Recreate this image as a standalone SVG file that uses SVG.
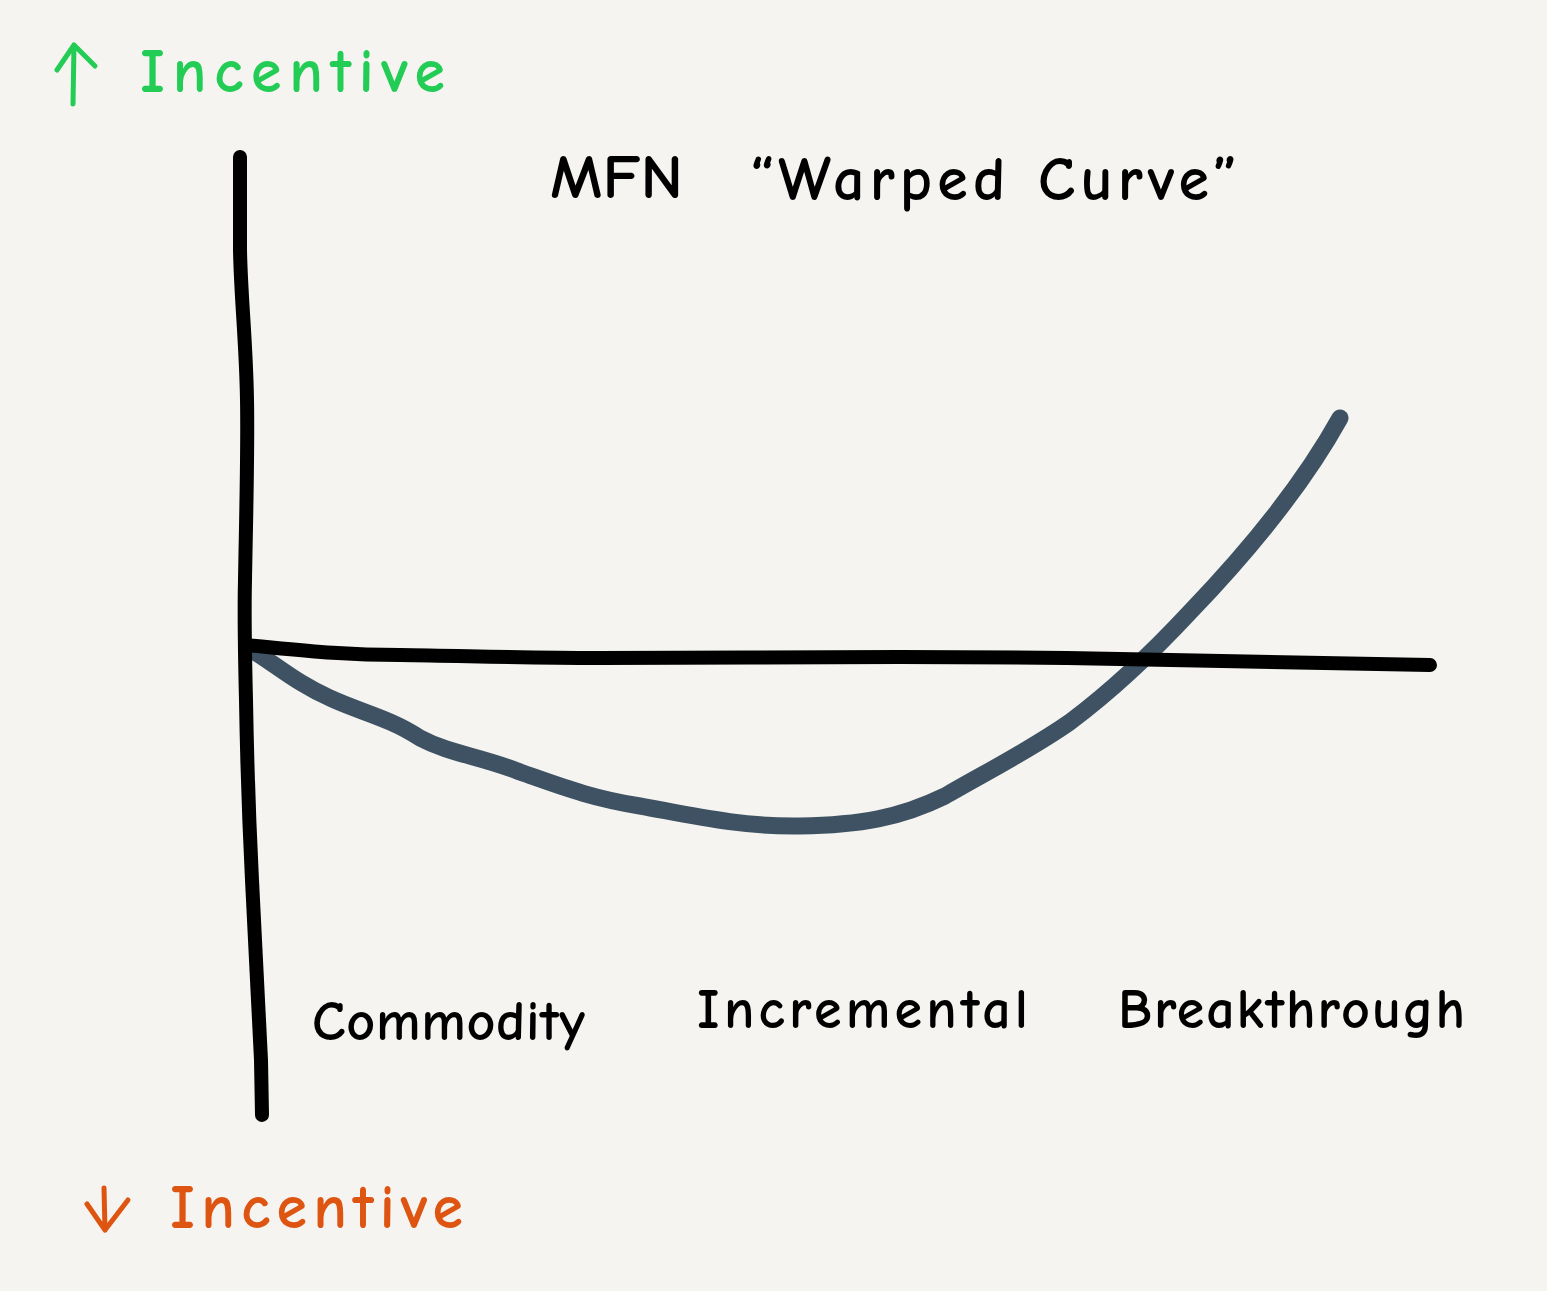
<svg xmlns="http://www.w3.org/2000/svg" width="1547" height="1291" viewBox="0 0 1547 1291">
<style>
.ink{fill:none;stroke-linecap:round;stroke-linejoin:round}
.lbl{font-family:"Comic Neue","Liberation Sans","DejaVu Sans",sans-serif;font-weight:bold}
</style>
<rect width="1547" height="1291" fill="#f5f4f0"/>
<g id="curve">
<path class="ink" stroke="#3e5263" stroke-width="17" d="M255,652 C280,668 300,685 330,698 C360,712 390,718 420,738 C450,754 480,756 520,772 C560,786 590,798 640,806 C690,815 740,827 800,826 C860,825 900,818 945,796 C990,770 1030,750 1070,722 C1110,692 1150,655 1190,612 C1240,560 1300,490 1340,418"/>
</g>
<g id="axes">
<path class="ink" stroke="#000" stroke-width="14" d="M240,157 L240,250 C241,300 246,340 247,400 C248,450 246,520 245,580 C244,620 245,660 246,700 C247,760 249,820 252,880 C255,950 259,1020 261,1060 L262,1115"/>
<path class="ink" stroke="#000" stroke-width="14" d="M246,645 C300,650 340,655 400,655 C470,656 520,658 600,658 C700,658 800,657 900,657 C1000,657 1060,658 1120,659 C1200,660 1300,662 1430,665"/>
</g>
<g id="title">
<text class="lbl" x="550" y="198" font-size="62" fill="#000" textLength="133" lengthAdjust="spacingAndGlyphs">MFN</text>
<text class="lbl" x="750" y="200" font-size="62" fill="#000" textLength="487" lengthAdjust="spacing">“Warped Curve”</text>
</g>
<g id="up-incentive">
<path class="ink" stroke="#22cc55" stroke-width="5" d="M73,104 L74,45 M57,70 L74,45 L95,66"/>
<text class="lbl" x="140" y="92" font-size="62" fill="#22cc55" textLength="305" lengthAdjust="spacing">Incentive</text>
</g>
<g id="down-incentive">
<path class="ink" stroke="#dd5511" stroke-width="5" d="M104,1188 L105,1230 M87,1204 L105,1230 L128,1200"/>
<text class="lbl" x="170" y="1228" font-size="62" fill="#dd5511" textLength="293" lengthAdjust="spacing">Incentive</text>
</g>
<g id="commodity">
<text class="lbl" x="312" y="1040" font-size="56" fill="#000" textLength="273" lengthAdjust="spacing">Commodity</text>
</g>
<g id="incremental">
<text class="lbl" x="697" y="1028" font-size="56" fill="#000" textLength="331" lengthAdjust="spacing">Incremental</text>
</g>
<g id="breakthrough">
<text class="lbl" x="1118" y="1028" font-size="56" fill="#000" textLength="347" lengthAdjust="spacing">Breakthrough</text>
</g>
</svg>
